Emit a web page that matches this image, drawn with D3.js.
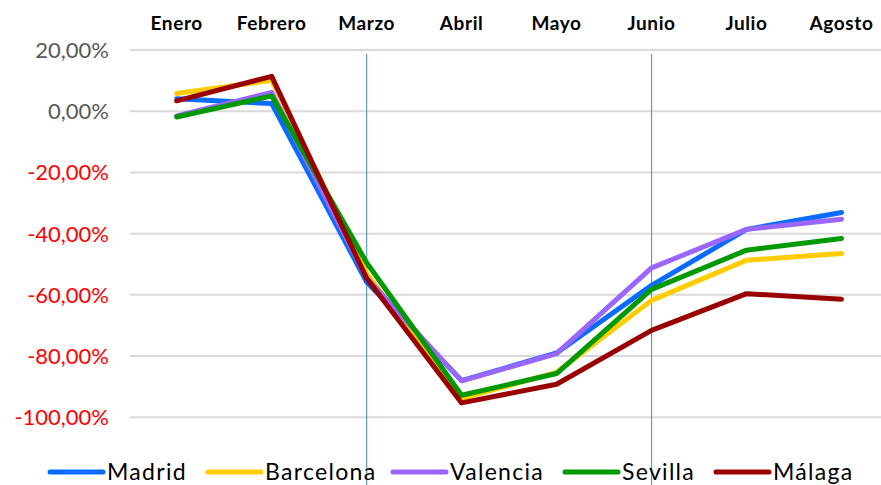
<!DOCTYPE html>
<html lang="en">
<head>
<meta charset="utf-8">
<title>Variación mensual por ciudad</title>
<script src="https://d3js.org/d3.v7.min.js"></script>
<style>
  body { margin: 0; background: #fff; }
  svg text { font-family: "Lato", "Noto Sans", sans-serif; }
  .month { font-weight: bold; font-size: 19px; letter-spacing: 0.6px; fill: #000; }
  .ytick { font-size: 22px; }
  .legend text { font-size: 23px; letter-spacing: 1.3px; fill: #000; }
</style>
</head>
<body>
<script>
// categories
var months = ["Enero", "Febrero", "Marzo", "Abril", "Mayo", "Junio", "Julio", "Agosto"];
var yTicks = [20, 0, -20, -40, -60, -80, -100];
var markedMonths = ["Marzo", "Junio"];

// series values (% change)
var cities = ["Madrid", "Barcelona", "Valencia", "Sevilla", "Málaga"];
var madrid    = [4.1, 2.5, -55.8, -88.0, -79.0, -56.9, -38.6, -33.1];
var barcelona = [5.8, 10.1, -53.0, -93.8, -85.3, -61.8, -48.7, -46.5];
var valencia  = [-1.5, 6.1, -54.5, -88.1, -79.2, -51.2, -38.6, -35.3];
var sevilla   = [-1.9, 5.0, -49.5, -92.8, -85.7, -58.2, -45.4, -41.6];
var malaga    = [3.4, 11.4, -54.6, -95.3, -89.2, -71.6, -59.6, -61.4];
var colors = ["#0a6cff", "#ffcc00", "#9966ff", "#009900", "#990000"];

var series = [madrid, barcelona, valencia, sevilla, malaga];

var w = 881, h = 485;

var svg = d3.select("body").append("svg")
    .attr("width", w)
    .attr("height", h);

var x = d3.scalePoint()
    .domain(months)
    .range([176.7, 841.5]);

var y = d3.scaleLinear()
    .domain([-100, 20])
    .range([417.3, 50]);

// excel style: comma decimals, plain hyphen for minus
var fmt = function (v) {
    return (v < 0 ? "-" : "") + Math.abs(v).toFixed(2).replace(".", ",") + "%";
};

// gridlines
svg.append("g").selectAll("line")
    .data(yTicks)
    .enter().append("line")
    .attr("x1", 130).attr("x2", w)
    .attr("y1", function (d) { return y(d); })
    .attr("y2", function (d) { return y(d); })
    .attr("stroke", "#d9d9d9")
    .attr("stroke-width", 2);

// y tick labels
svg.append("g").selectAll("text")
    .data(yTicks)
    .enter().append("text")
    .attr("class", "ytick")
    .attr("x", 109)
    .attr("y", function (d) { return y(d); })
    .attr("dy", "0.36em")
    .attr("text-anchor", "end")
    .attr("fill", function (d) { return d < 0 ? "#ff0000" : "#595959"; })
    .text(fmt);

// month labels on top
svg.append("g").selectAll("text")
    .data(months)
    .enter().append("text")
    .attr("class", "month")
    .attr("x", function (d) { return x(d); })
    .attr("y", 30)
    .attr("text-anchor", "middle")
    .text(function (d) { return d; });

// vertical marker lines
svg.append("g").selectAll("line")
    .data(markedMonths)
    .enter().append("line")
    .attr("x1", function (d) { return x(d); })
    .attr("x2", function (d) { return x(d); })
    .attr("y1", 54).attr("y2", h)
    .attr("stroke", "#5f9db5")
    .attr("stroke-width", 1.2);

var line = d3.line()
    .x(function (d, i) { return x(months[i]); })
    .y(function (d) { return y(d); });

svg.append("g").selectAll("path")
    .data(series)
    .enter().append("path")
    .attr("d", line)
    .attr("fill", "none")
    .attr("stroke", function (d, i) { return colors[i]; })
    .attr("stroke-width", 5)
    .attr("stroke-linecap", "round")
    .attr("stroke-linejoin", "round");

// legend
var legendX = [50, 208, 393, 565, 716];
var legend = svg.append("g").attr("class", "legend")
    .selectAll("g")
    .data(cities)
    .enter().append("g")
    .attr("transform", function (d, i) { return "translate(" + legendX[i] + ",472)"; });

legend.append("line")
    .attr("x1", 0).attr("x2", 53)
    .attr("stroke", function (d, i) { return colors[i]; })
    .attr("stroke-width", 5)
    .attr("stroke-linecap", "round");

legend.append("text")
    .attr("x", 57)
    .attr("dy", "0.36em")
    .text(function (d) { return d; });
</script>
</body>
</html>
